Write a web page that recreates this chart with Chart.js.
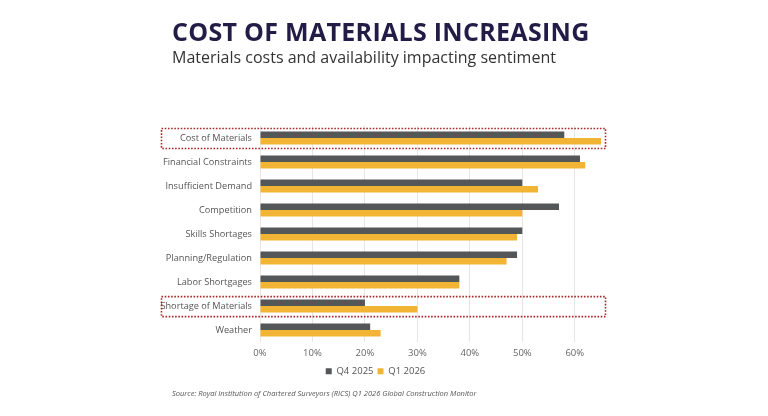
<!DOCTYPE html>
<html>
<head>
<meta charset="utf-8">
<script src="https://cdn.jsdelivr.net/npm/chart.js@4"></script>
<style>
  html, body { margin: 0; padding: 0; background: #fff; }
  #wrap { position: relative; width: 768px; height: 416px; overflow: hidden; }
  #title { position: absolute; left: 172px; top: 14px; font: 700 25px "Open Sans", sans-serif; color: #221c46; letter-spacing: 0.3px; white-space: nowrap; }
  #sub { position: absolute; left: 172px; top: 46px; font: 400 16px "Open Sans", sans-serif; color: #333; white-space: nowrap; }
  #src { position: absolute; left: 172px; top: 388px; font: italic 400 7.5px "Open Sans", sans-serif; color: #555; white-space: nowrap; }
  canvas { position: absolute; left: 0; top: 0; }
</style>
</head>
<body>
<div id="wrap">
  <canvas id="chart" width="768" height="416"></canvas>
  <div id="title">COST OF MATERIALS INCREASING</div>
  <div id="sub">Materials costs and availability impacting sentiment</div>
  <div id="src">Source: Royal Institution of Chartered Surveyors (RICS) Q1 2026 Global Construction Monitor</div>
</div>
<script>
// categories, top to bottom
const categories = ['Cost of Materials', 'Financial Constraints', 'Insufficient Demand', 'Competition',
  'Skills Shortages', 'Planning/Regulation', 'Labor Shortgages', 'Shortage of Materials', 'Weather'];
const q4_2025 = [0.58, 0.61, 0.50, 0.57, 0.50, 0.49, 0.38, 0.20, 0.21];
const q1_2026 = [0.65, 0.62, 0.53, 0.50, 0.49, 0.47, 0.38, 0.30, 0.23];
const xTicks = [0, 0.1, 0.2, 0.3, 0.4, 0.5, 0.6];
const highlighted = ['Cost of Materials', 'Shortage of Materials'];

// dotted red boxes round the highlighted rows
const boxPlugin = {
  id: 'rowBoxes',
  afterDraw(chart) {
    const ctx = chart.ctx;
    const y = chart.scales.y;
    ctx.save();
    ctx.strokeStyle = '#a8282c';
    ctx.lineWidth = 1.6;
    ctx.setLineDash([1.6, 1.6]);
    highlighted.forEach(name => {
      const cy = y.getPixelForValue(categories.indexOf(name));
      ctx.strokeRect(161.5, cy - 9.5, 444, 20);
    });
    ctx.restore();
  }
};

new Chart(document.getElementById('chart').getContext('2d'), {
  type: 'bar',
  data: {
    labels: categories,
    datasets: [
      { label: 'Q4 2025', data: q4_2025, backgroundColor: '#545658' },
      { label: 'Q1 2026', data: q1_2026, backgroundColor: '#f1b434' }
    ]
  },
  options: {
    indexAxis: 'y',
    responsive: false,
    animation: false,
    datasets: { bar: { categoryPercentage: 0.54, barPercentage: 1 } },
    layout: { padding: { left: 150, right: 167, top: 126, bottom: 30 } },
    scales: {
      x: {
        min: 0, max: 0.65,
        afterBuildTicks: s => { s.ticks = xTicks.map(v => ({ value: v })); },
        afterFit: s => { s.height -= 1; },
        grid: { color: '#e6e6e6', drawTicks: false },
        border: { display: false },
        ticks: {
          padding: 5,
          color: '#666',
          font: { family: 'Open Sans', size: 9.5 },
          callback: v => Math.round(v * 100) + '%'
        }
      },
      y: {
        afterFit: s => { s.width = 110; },
        grid: { display: false, drawTicks: false },
        border: { display: false },
        ticks: { padding: 8, color: '#555', font: { family: 'Open Sans', size: 9.2 } }
      }
    },
    plugins: {
      legend: {
        position: 'bottom',
        labels: {
          boxWidth: 6, boxHeight: 6, padding: 4, color: '#555',
          font: { family: 'Open Sans', size: 9.5 }
        }
      },
      tooltip: { enabled: false }
    }
  },
  plugins: [boxPlugin]
});
</script>
</body>
</html>
